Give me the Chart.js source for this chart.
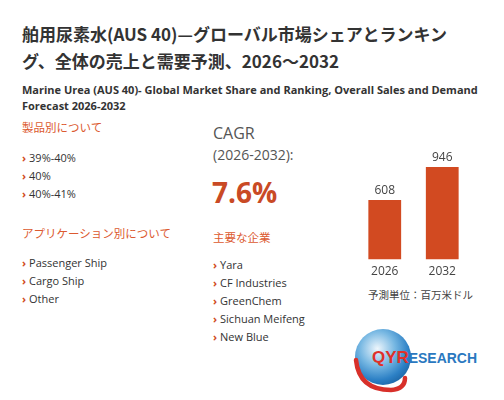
<!DOCTYPE html>
<html>
<head>
<meta charset="utf-8">
<script src="https://cdn.jsdelivr.net/npm/chart.js@4"></script>
<style>
  body { margin: 0; width: 504px; height: 400px; background: #fff; overflow: hidden;
         font-family: "Open Sans", "Noto Sans CJK JP", sans-serif; color: #333; position: relative; }
  .abs { position: absolute; white-space: nowrap; }
  .title { left: 22px; top: 20px; font-size: 17px; font-weight: bold; line-height: 27px; color: #333;
           font-family: "Noto Sans CJK JP", sans-serif; }
  .sub { left: 22px; top: 82px; font-size: 11px; font-weight: bold; line-height: 16px; color: #333; }
  .head { font-size: 11.5px; color: #dc5a30; font-family: "Noto Sans CJK JP", sans-serif; }
  .list { font-size: 11px; line-height: 18px; color: #333; }
  .list span { color: #d14a22; font-weight: bold; margin-right: 3px; }
  #chartBox { position: absolute; left: 356px; top: 142px; width: 115px; height: 142px; }
</style>
</head>
<body>
<div class="abs title">舶用尿素水(AUS 40)—グローバル市場シェアとランキン<br>グ、全体の売上と需要予測、2026～2032</div>
<div class="abs sub">Marine Urea (AUS 40)- Global Market Share and Ranking, Overall Sales and Demand<br>Forecast 2026-2032</div>

<div class="abs head" style="left:22px; top:119px;">製品別について</div>
<div class="abs list" id="typeList" style="left:22px; top:149px;"></div>
<div class="abs head" style="left:22px; top:225px;">アプリケーション別について</div>
<div class="abs list" id="appList" style="left:22px; top:254px;"></div>

<div class="abs" style="left:213px; top:122px; font-size:16px; color:#555;">CAGR</div>
<div class="abs" style="left:213px; top:145px; font-size:14px; color:#555;">(2026-2032):</div>
<div class="abs" style="left:212px; top:173px; font-size:28px; font-weight:bold; color:#c94a25;">7.6%</div>
<div class="abs head" style="left:213px; top:229px;">主要な企業</div>
<div class="abs list" id="companyList" style="left:213px; top:256px;"></div>

<div id="chartBox"><canvas id="myChart"></canvas></div>
<div class="abs" style="left:368px; top:287px; font-size:10.5px; color:#444; font-family:'Noto Sans CJK JP', sans-serif;">予測単位：百万米ドル</div>

<!-- logo -->
<svg class="abs" style="left:345px; top:322px;" width="140" height="78" viewBox="0 0 140 78">
  <defs>
    <radialGradient id="globe" cx="0.4" cy="0.35" r="0.7">
      <stop offset="0" stop-color="#eef6fc"/>
      <stop offset="0.45" stop-color="#76b7e2"/>
      <stop offset="0.8" stop-color="#2c80c5"/>
      <stop offset="1" stop-color="#1d66a6"/>
    </radialGradient>
  </defs>
  <circle cx="38" cy="35" r="28" fill="url(#globe)"/>
  <path d="M 11 38 Q 14 68 46 68 Q 60 67 60 56" fill="none" stroke="#d8302a" stroke-width="4.5" stroke-linecap="round"/>
  <text x="27" y="41" textLength="105" lengthAdjust="spacingAndGlyphs" font-family="Liberation Sans, sans-serif" font-weight="bold"><tspan fill="#e0302a" font-size="17">QYR</tspan><tspan fill="#2a78c0" font-size="14">ESEARCH</tspan></text>
</svg>

<script>
// Data
var typeItems = ['39%-40%', '40%', '40%-41%'];
var appItems = ['Passenger Ship', 'Cargo Ship', 'Other'];
var companies = ['Yara', 'CF Industries', 'GreenChem', 'Sichuan Meifeng', 'New Blue'];
var years = ['2026', '2032'];
var marketSize = [608, 946];

function fillList(id, items) {
    var el = document.getElementById(id);
    el.innerHTML = items.map(function (t) { return '<div><span>›</span>' + t + '</div>'; }).join('');
}
fillList('typeList', typeItems);
fillList('appList', appItems);
fillList('companyList', companies);

// draws the value above each bar
var valueLabels = {
    id: 'valueLabels',
    afterDatasetsDraw: function (chart) {
        var ctx = chart.ctx;
        var meta = chart.getDatasetMeta(0);
        ctx.save();
        ctx.font = '12px "Open Sans", sans-serif';
        ctx.fillStyle = '#444';
        ctx.textAlign = 'center';
        ctx.textBaseline = 'bottom';
        meta.data.forEach(function (bar, i) {
            ctx.fillText(chart.data.datasets[0].data[i], bar.x, bar.y - 3);
        });
        ctx.restore();
    }
};

var ctx = document.getElementById('myChart').getContext('2d');
var myChart = new Chart(ctx, {
    type: 'bar',
    data: {
        labels: years,
        datasets: [{
            data: marketSize,
            backgroundColor: '#d24a21',
            barPercentage: 0.57,
            categoryPercentage: 1
        }]
    },
    options: {
        responsive: true,
        maintainAspectRatio: false,
        animation: false,
        layout: { padding: 0 },
        plugins: { legend: { display: false }, tooltip: { enabled: false } },
        scales: {
            y: { display: false, min: 0, max: 1200 },
            x: {
                grid: { display: false, drawTicks: false },
                border: { display: false },
                ticks: { color: '#444', padding: 5, font: { size: 12, family: '"Open Sans", sans-serif' } }
            }
        }
    },
    plugins: [valueLabels]
});
</script>
</body>
</html>
